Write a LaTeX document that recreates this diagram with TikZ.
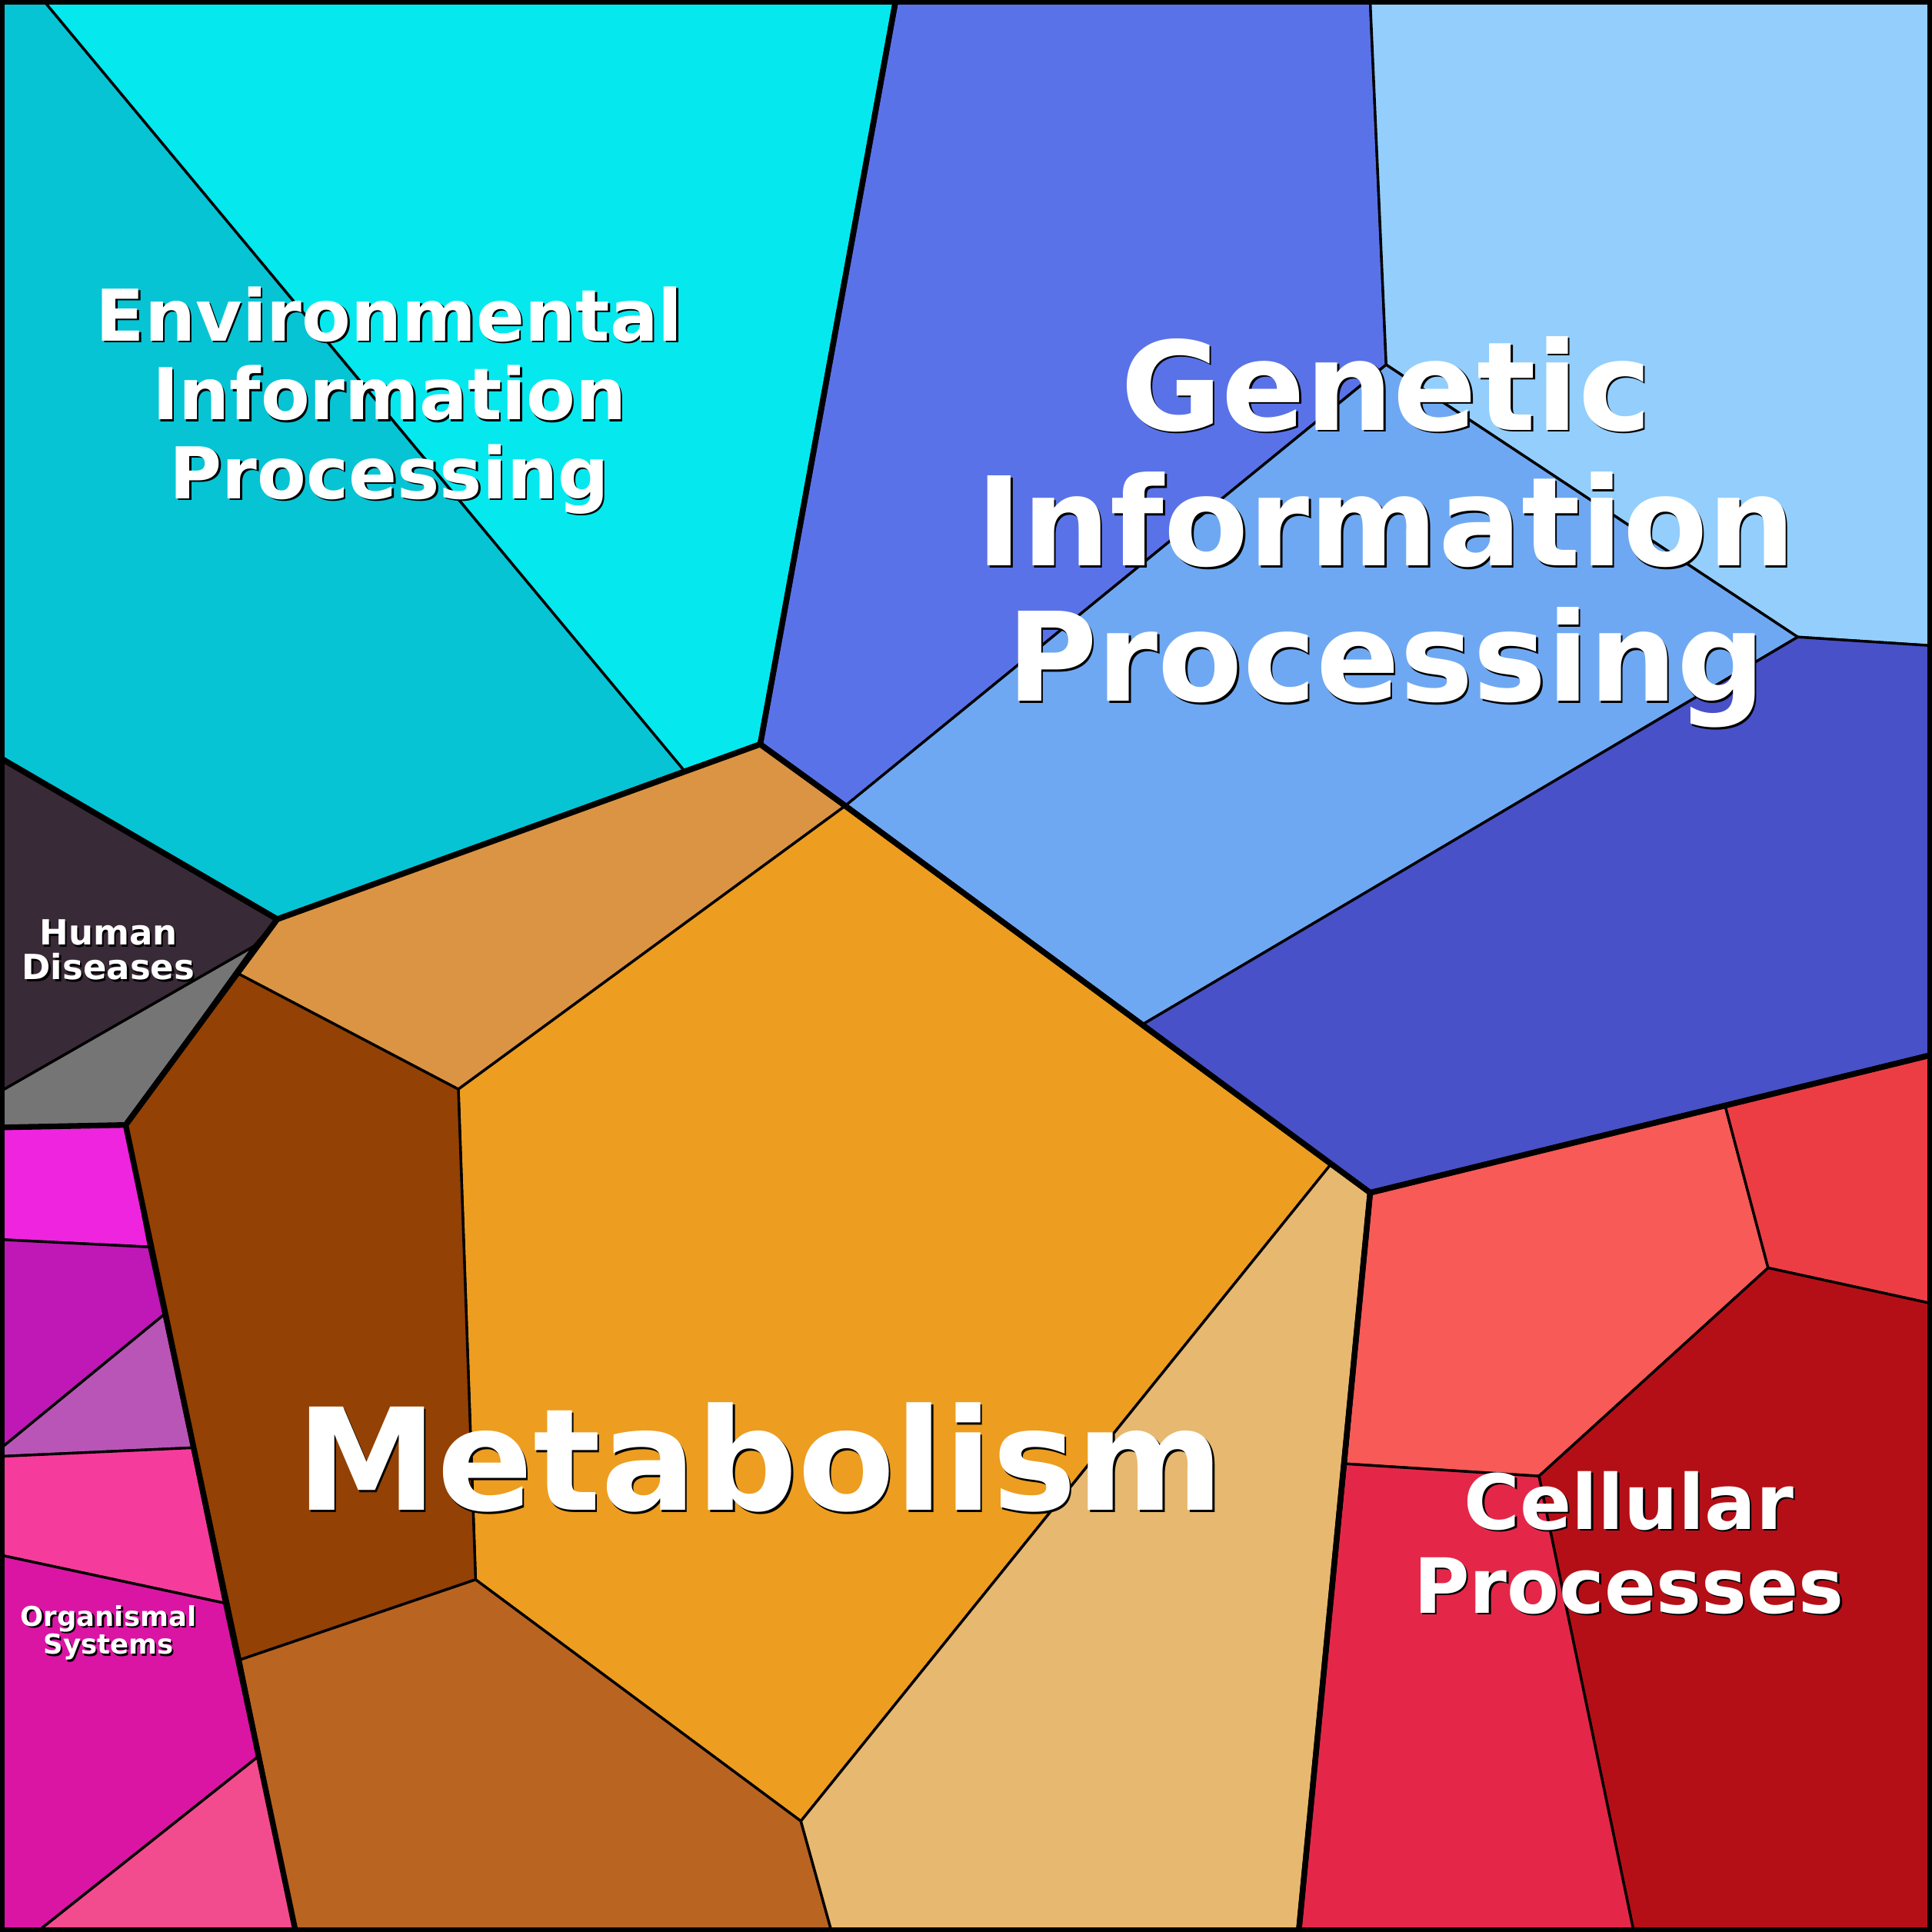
\documentclass[tikz,border=0pt]{standalone}
\usepackage{fontspec}
\setmainfont{DejaVu Sans}
\begin{document}
\begin{tikzpicture}[x=0.1mm,y=-0.1mm,
  cell/.style={draw=black,line width=0.6pt,line join=round},
  cat/.style={draw=black,line width=1.3pt,line join=round},
  txt/.style={text=white,font=\bfseries,align=center,inner sep=0pt},
  shd/.style={text=black,font=\bfseries,align=center,inner sep=0pt}]
\useasboundingbox (0,0) rectangle (1568,1568);
\definecolor{c1}{HTML}{06C4D4}\definecolor{c2}{HTML}{05E8EE}
\definecolor{g1}{HTML}{5A72E8}\definecolor{g2}{HTML}{93CEFC}\definecolor{g3}{HTML}{6FA8F2}\definecolor{g4}{HTML}{4851C8}
\definecolor{m1}{HTML}{DA9443}\definecolor{m2}{HTML}{ED9D1F}\definecolor{m3}{HTML}{934104}\definecolor{m4}{HTML}{BA6422}\definecolor{m5}{HTML}{E7B86F}
\definecolor{p1}{HTML}{F75A57}\definecolor{p2}{HTML}{EC3D45}\definecolor{p3}{HTML}{B40F17}\definecolor{p4}{HTML}{E42748}
\definecolor{h1}{HTML}{392A37}\definecolor{h2}{HTML}{757575}
\definecolor{o1}{HTML}{EE24DE}\definecolor{o2}{HTML}{BF18B6}\definecolor{o3}{HTML}{B955B6}\definecolor{o4}{HTML}{F53C9C}\definecolor{o5}{HTML}{DA15A4}\definecolor{o6}{HTML}{F34C8E}
% Environmental
\fill[c1,cell] (0,0)--(35,0)--(555,625)--(225,746)--(0,615)--cycle;
\fill[c2,cell] (35,0)--(727,0)--(617,604)--(555,625)--cycle;
% Genetic
\fill[g1,cell] (727,0)--(1112,0)--(1125,296)--(686,654)--(617,604)--cycle;
\fill[g2,cell] (1112,0)--(1568,0)--(1568,524)--(1459,517)--(1125,296)--cycle;
\fill[g3,cell] (1125,296)--(1459,517)--(928,831)--(686,654)--cycle;
\fill[g4,cell] (1459,517)--(1568,524)--(1568,856)--(1112,968)--(928,831)--cycle;
% Metabolism
\fill[m1,cell] (617,604)--(686,654)--(372,884)--(193,790)--(225,746)--cycle;
\fill[m2,cell] (686,654)--(1080,945)--(650,1478)--(386,1282)--(372,884)--cycle;
\fill[m3,cell] (193,790)--(372,884)--(386,1282)--(195,1347)--(102,913)--cycle;
\fill[m4,cell] (386,1282)--(650,1478)--(675,1568)--(240,1568)--(195,1347)--cycle;
\fill[m5,cell] (1080,945)--(1112,968)--(1054,1568)--(675,1568)--(650,1478)--cycle;
% Cellular
\fill[p1,cell] (1112,968)--(1400,897)--(1435,1029)--(1249,1198)--(1092,1188)--cycle;
\fill[p2,cell] (1400,897)--(1568,856)--(1568,1058)--(1435,1029)--cycle;
\fill[p3,cell] (1435,1029)--(1568,1058)--(1568,1568)--(1326,1568)--(1249,1198)--cycle;
\fill[p4,cell] (1092,1188)--(1249,1198)--(1326,1568)--(1054,1568)--cycle;
% Human diseases
\fill[h1,cell] (0,615)--(225,746)--(206,768)--(0,886)--cycle;
\fill[h2,cell] (0,886)--(206,768)--(102,913)--(0,915)--cycle;
% Organismal
\fill[o1,cell] (0,915)--(102,913)--(121,1012)--(0,1006)--cycle;
\fill[o2,cell] (0,1006)--(121,1012)--(133,1067)--(0,1176)--cycle;
\fill[o3,cell] (0,1176)--(133,1067)--(156,1175)--(0,1182)--cycle;
\fill[o4,cell] (0,1182)--(156,1175)--(182,1301)--(0,1262)--cycle;
\fill[o5,cell] (0,1262)--(182,1301)--(209,1426)--(30,1568)--(0,1568)--cycle;
\fill[o6,cell] (30,1568)--(209,1426)--(240,1568)--cycle;
% category outlines
\draw[cat] (0,0)--(727,0)--(617,604)--(225,746)--(0,615)--cycle;
\draw[cat] (727,0)--(1568,0)--(1568,856)--(1112,968)--(686,654)--(617,604)--cycle;
\draw[cat] (617,604)--(686,654)--(1112,968)--(1054,1568)--(240,1568)--(102,913)--(225,746)--cycle;
\draw[cat] (1112,968)--(1568,856)--(1568,1568)--(1054,1568)--cycle;
\draw[cat] (0,615)--(225,746)--(102,913)--(0,915)--cycle;
\draw[black,line width=2.2pt] (0,0) rectangle (1568,1568);
% labels
\newcommand{\lbl}[4]{%
 \node[shd,font=\bfseries\fontsize{#2}{#3}\selectfont] at ([shift={(1.5,1.5)}]#1) {#4};
 \node[txt,font=\bfseries\fontsize{#2}{#3}\selectfont] at (#1) {#4};}
\lbl{316,325}{16.5pt}{18.2pt}{Environmental\\Information\\Processing}
\lbl{1125,432}{28.5pt}{31.3pt}{Genetic\\Information\\Processing}
\lbl{617,1183}{32.7pt}{36pt}{Metabolism}
\lbl{1322,1252}{17.6pt}{19.3pt}{Cellular\\Processes}
\lbl{88,771}{8pt}{8pt}{Human\\Diseases}
\lbl{88,1325}{6.3pt}{6.5pt}{Organismal\\Systems}
\end{tikzpicture}
\end{document}
